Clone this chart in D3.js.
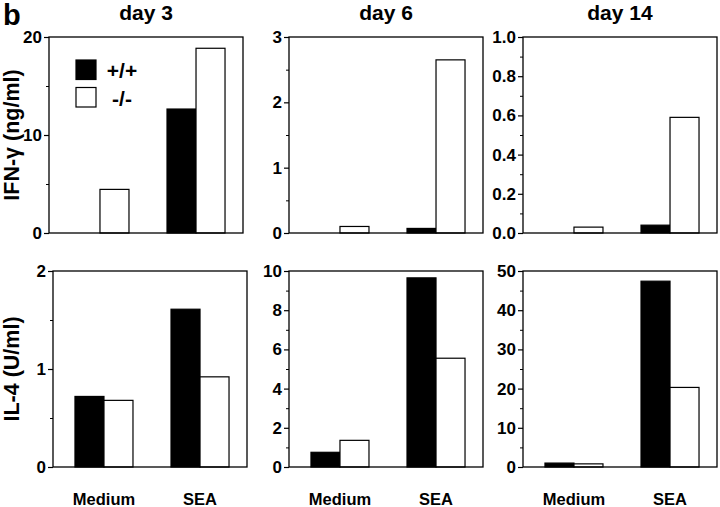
<!DOCTYPE html>
<html>
<head>
<meta charset="utf-8">
<script src="https://cdn.jsdelivr.net/npm/d3@7"></script>
<style>
  html, body { margin: 0; padding: 0; background: #fff; }
  svg { display: block; font-family: "Liberation Sans", Arial, Helvetica, sans-serif; font-weight: bold; }
</style>
</head>
<body>
<svg id="chart" width="720" height="507"></svg>
<script>
// ---- Data ----
const groups = ["Medium", "SEA"];
const genotypes = ["+/+", "-/-"];
const days = ["day 3", "day 6", "day 14"];

// IFN-γ (ng/ml)
const ifnWT_day3 = [0, 12.65];
const ifnKO_day3 = [4.45, 18.85];
const ifnWT_day6 = [0, 0.07];
const ifnKO_day6 = [0.1, 2.65];
const ifnWT_day14 = [0, 0.04];
const ifnKO_day14 = [0.03, 0.59];

// IL-4 (U/ml)
const il4WT_day3 = [0.72, 1.61];
const il4KO_day3 = [0.68, 0.92];
const il4WT_day6 = [0.75, 9.65];
const il4KO_day6 = [1.36, 5.55];
const il4WT_day14 = [1.0, 47.4];
const il4KO_day14 = [0.8, 20.3];

// y-axis tick settings per panel
const ifnMax = [20, 3, 1.0];
const ifnMajor = [[0, 10, 20], [0, 1, 2, 3], [0, 0.2, 0.4, 0.6, 0.8, 1.0]];
const ifnMinor = [[5, 15], [0.5, 1.5, 2.5], [0.1, 0.3, 0.5, 0.7, 0.9]];
const ifnFormat = ["d", "d", ".1f"];

const il4Max = [2, 10, 50];
const il4Major = [[0, 1, 2], [0, 2, 4, 6, 8, 10], [0, 10, 20, 30, 40, 50]];
const il4Minor = [[0.5, 1.5], [1, 3, 5, 7, 9], [5, 15, 25, 35, 45]];
const il4Format = ["d", "d", "d"];

const rowLabels = ["IFN-γ (ng/ml)", "IL-4 (U/ml)"];

// ---- Layout ----
const svg = d3.select("#chart");
const W = 194, H = 196;
const colX = [[49, 289, 523], [53, 289, 523]];
const rowY = [37, 271];

const rows = [
  { wt: [ifnWT_day3, ifnWT_day6, ifnWT_day14], ko: [ifnKO_day3, ifnKO_day6, ifnKO_day14],
    max: ifnMax, major: ifnMajor, minor: ifnMinor, fmt: ifnFormat },
  { wt: [il4WT_day3, il4WT_day6, il4WT_day14], ko: [il4KO_day3, il4KO_day6, il4KO_day14],
    max: il4Max, major: il4Major, minor: il4Minor, fmt: il4Format }
];

const fill = { "+/+": "#000", "-/-": "#fff" };

rows.forEach((row, r) => {
  days.forEach((day, c) => {
    const x0 = colX[r][c], y0 = rowY[r];
    const g = svg.append("g").attr("transform", `translate(${x0},${y0})`);

    const x = d3.scaleBand().domain(groups).range([0, W]).paddingInner(0.396).paddingOuter(0.208).align(0.55);
    const xs = d3.scaleBand().domain(genotypes).range([0, x.bandwidth()]).padding(0);
    const y = d3.scaleLinear().domain([0, row.max[c]]).range([H, 0]);

    const data = [];
    groups.forEach((gr, i) => {
      data.push({ group: gr, gen: "+/+", v: row.wt[c][i] });
      data.push({ group: gr, gen: "-/-", v: row.ko[c][i] });
    });

    g.selectAll("rect.bar").data(data.filter(d => d.v > 0)).join("rect")
      .attr("class", "bar")
      .attr("x", d => x(d.group) + xs(d.gen))
      .attr("width", xs.bandwidth())
      .attr("y", d => y(d.v))
      .attr("height", d => H - y(d.v))
      .attr("fill", d => fill[d.gen])
      .attr("stroke", "#000")
      .attr("stroke-width", 1.2);

    // frame
    g.append("rect").attr("x", 0).attr("y", 0).attr("width", W).attr("height", H)
      .attr("fill", "none").attr("stroke", "#000").attr("stroke-width", 1.3);

    // y axis major
    const ax = d3.axisLeft(y).tickValues(row.major[c]).tickSize(5).tickPadding(2)
      .tickFormat(d3.format(row.fmt[c]));
    const axg = g.append("g").call(ax);
    axg.select(".domain").remove();
    axg.selectAll("line").attr("stroke-width", 1.2);
    axg.selectAll("text").attr("font-size", 17).attr("font-family", "Liberation Sans, Arial, sans-serif")
      .attr("font-weight", "bold").attr("fill", "#000");

    // y axis minor
    const axm = d3.axisLeft(y).tickValues(row.minor[c]).tickSize(3).tickFormat("");
    const axmg = g.append("g").call(axm);
    axmg.select(".domain").remove();
    axmg.selectAll("line").attr("stroke-width", 1);

    // titles
    if (r === 0) {
      svg.append("text").attr("x", x0 + W / 2).attr("y", 20)
        .attr("text-anchor", "middle").attr("font-size", 21).text(day);
    }
    if (r === 1) {
      groups.forEach(gr => {
        svg.append("text").attr("x", x0 + x(gr) + x.bandwidth() / 2).attr("y", 505)
          .attr("text-anchor", "middle").attr("font-size", 16.5).text(gr);
      });
    }

    // legend in first panel
    if (r === 0 && c === 0) {
      genotypes.forEach((gen, i) => {
        svg.append("rect").attr("x", 76).attr("y", 60 + i * 27.5).attr("width", 20).attr("height", 19.5)
          .attr("fill", fill[gen]).attr("stroke", "#000").attr("stroke-width", 1.2);
        svg.append("text").attr("x", 122).attr("y", 78 + i * 28)
          .attr("text-anchor", "middle").attr("font-size", 21).text(gen);
      });
    }
  });

  // row label
  const cy = rowY[r] + H / 2;
  svg.append("text").attr("transform", `translate(19,${cy}) rotate(-90)`)
    .attr("text-anchor", "middle").attr("font-size", 21.5).text(rowLabels[r]);
});

// panel letter
svg.append("text").attr("x", 3).attr("y", 25).attr("font-size", 29).text("b");
</script>
</body>
</html>
